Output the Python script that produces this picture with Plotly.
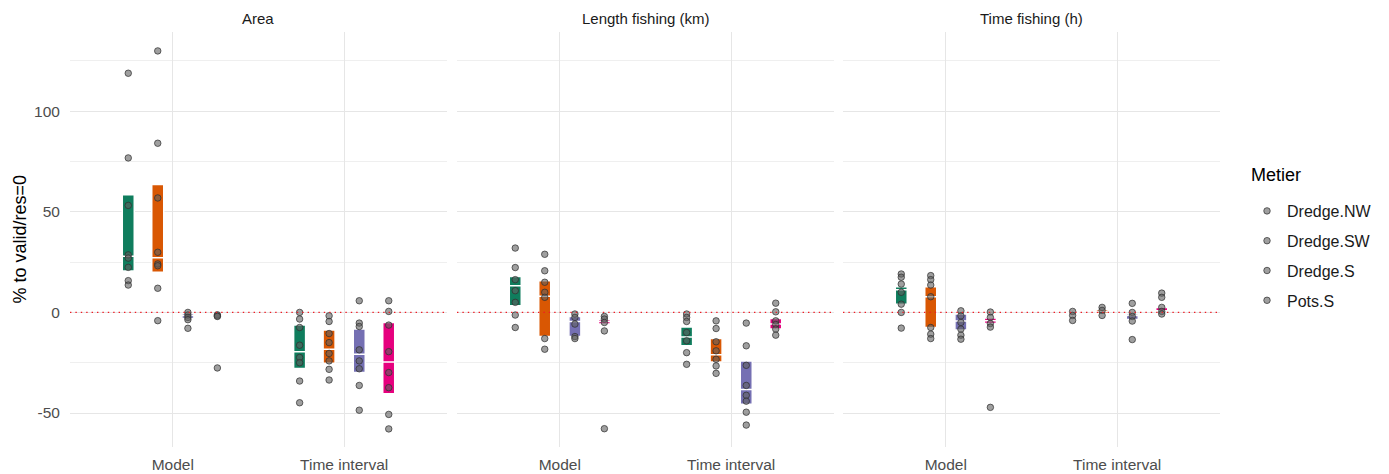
import plotly.graph_objects as go

# ---------------- data ----------------
metiers = ["Dredge.NW", "Dredge.SW", "Dredge.S", "Pots.S"]
categories = ["Model", "Time interval"]
panels = ["Area", "Length fishing (km)", "Time fishing (h)"]
y_tickvals = [-50, 0, 50, 100]
y_ticktext = ["-50", "0", "50", "100"]

# points per metier (NW, SW, S, Pots)
area_model_pts = [
    [118.9, 76.8, 53.2, 28.6, 27.0, 22.4, 15.8, 13.6],
    [130.0, 84.1, 56.9, 29.9, 24.1, 23.2, 12.0, -4.1],
    [0.0, -1.3, -2.5, -3.6, -7.9],
    [-1.2, -1.7, -2.0, -27.6],
]
area_time_pts = [
    [0.0, -3.3, -7.5, -16.3, -22.4, -25.0, -34.1, -44.9],
    [-1.7, -4.5, -10.5, -15.0, -20.4, -24.1, -28.3, -33.6],
    [5.8, -5.3, -7.0, -18.6, -24.1, -28.0, -36.3, -48.6],
    [5.8, 0.5, -6.3, -19.5, -29.9, -37.4, -50.7, -57.9],
]
length_model_pts = [
    [32.0, 22.3, 16.3, 10.8, 5.0, -1.3, -7.5],
    [28.9, 20.7, 15.0, 10.0, 7.5, -13.0, -18.3],
    [-0.8, -2.5, -5.8, -12.0, -13.0],
    [-2.0, -3.3, -5.0, -9.2, -57.8],
]
length_time_pts = [
    [-0.8, -2.5, -4.5, -10.0, -14.1, -20.0, -25.8],
    [-4.2, -8.0, -14.6, -19.1, -23.3, -26.6, -30.3],
    [-5.3, -16.6, -26.3, -36.3, -41.2, -44.1, -49.6, -56.0],
    [4.6, 0.3, -4.2, -6.0, -8.3, -11.3],
]
time_model_pts = [
    [19.1, 17.5, 14.1, 10.0, 4.1, 0.0, -7.8],
    [18.3, 16.3, 13.6, 7.8, -7.5, -10.8, -13.0],
    [0.8, -1.7, -5.0, -8.3, -11.3, -13.3],
    [0.2, -2.5, -5.5, -7.3, -47.2],
]
time_time_pts = [
    [0.5, -1.5, -4.0],
    [2.5, 1.0, -1.5],
    [4.5, 0.0, -2.0, -4.3, -13.5],
    [9.6, 7.5, 2.5, 0.5, -0.8],
]

# boxes per metier: [q1, median, q3]
area_model_box = [[20.6, 27.9, 58.5], [20.0, 27.2, 63.6], [-3.0, -1.5, -0.5], [-2.0, -1.5, -1.0]]
area_time_box = [[-27.9, -19.5, -6.3], [-25.3, -18.3, -8.8], [-29.9, -20.8, -8.3], [-40.4, -24.6, -5.0]]
length_model_box = [[3.3, 13.3, 17.8], [-12.0, 8.0, 15.8], [-12.0, -4.5, -2.0], [-5.8, -4.5, -3.5]]
length_time_box = [[-16.6, -12.2, -7.2], [-24.6, -21.1, -13.0], [-45.7, -38.3, -24.1], [-8.3, -5.8, -3.0]]
time_model_box = [[4.1, 11.3, 12.8], [-7.5, 7.8, 12.8], [-8.7, -4.3, -0.8], [-5.5, -4.2, -2.8]]
time_time_box = [[-1.0, -0.5, 0.0], [-0.5, 0.5, 1.5], [-3.5, -1.5, -0.6], [0.8, 2.5, 3.0]]

panel_pts = [[area_model_pts, area_time_pts],
             [length_model_pts, length_time_pts],
             [time_model_pts, time_time_pts]]
panel_box = [[area_model_box, area_time_box],
             [length_model_box, length_time_box],
             [time_model_box, time_time_box]]

colors = ["#0f7d5d", "#d95703", "#7570b3", "#e6007e"]
offsets = [-0.26, -0.088, 0.088, 0.26]
box_width = 0.07

# ---------------- layout geometry ----------------
# page body has an 8px margin; plot area should land at x 70..1220, y 32..447
BODY = 8
W, H = 1389 - BODY, 474 - BODY
PL, PR, PT, PB = 70, 1220, 32, 447
ml, mt = PL - BODY, PT - BODY
mr = W - ml - (PR - PL)
mb = H - mt - (PB - PT)
pw, ph = PR - PL, PB - PT


def px(xs):
    return (xs - PL) / pw


def py(ys):
    return (PB - ys) / ph


domains = [[0, px(447)], [px(457), px(834)], [px(843), 1.0]]

fig = go.Figure()
FONT = "Liberation Sans, Arial, sans-serif"

for p in range(3):
    xa = "x" if p == 0 else f"x{p + 1}"
    ya = "y" if p == 0 else f"y{p + 1}"
    for c in range(2):
        for m in range(4):
            q1, med, q3 = panel_box[p][c][m]
            fig.add_trace(go.Box(
                x=[c + 1 + offsets[m]], q1=[q1], median=[med], q3=[q3],
                lowerfence=[q1], upperfence=[q3], width=box_width,
                fillcolor=colors[m], line=dict(color="white", width=1.5),
                boxpoints=False, showlegend=False, hoverinfo="skip",
                xaxis=xa, yaxis=ya))
    for m in range(4):
        xs, ys = [], []
        for c in range(2):
            vals = panel_pts[p][c][m]
            xs += [c + 1 + offsets[m]] * len(vals)
            ys += vals
        fig.add_trace(go.Scatter(
            x=xs, y=ys, mode="markers", name=metiers[m],
            legendgroup=metiers[m], showlegend=(p == 0),
            marker=dict(size=6.5, color="rgba(95,95,95,0.6)",
                        line=dict(color="rgba(45,45,45,0.7)", width=1)),
            xaxis=xa, yaxis=ya))
    fig.add_shape(type="line", xref=f"{xa} domain", yref=ya, x0=0, x1=1, y0=0, y1=0,
                  line=dict(color="#ee1c25", width=1.4, dash="1.4px,4px"), layer="above")
    fig.add_annotation(text=panels[p], xref="paper", yref="paper",
                       x=(domains[p][0] + domains[p][1]) / 2, y=py(19),
                       showarrow=False, font=dict(size=15, color="#1a1a1a", family=FONT),
                       xanchor="center", yanchor="middle")

axis_common = dict(showline=False, zeroline=False, gridcolor="#e6e6e6", gridwidth=1,
                   automargin=False)
for p in range(3):
    key = "xaxis" if p == 0 else f"xaxis{p + 1}"
    fig.layout[key] = dict(domain=domains[p], range=[0.4, 2.6], tickvals=[1, 2],
                           ticktext=categories, anchor="y" if p == 0 else f"y{p + 1}",
                           ticks="outside", ticklen=3, tickcolor="rgba(0,0,0,0)",
                           tickfont=dict(size=15.5, color="#4d4d4d", family=FONT),
                           **axis_common)
    ykey = "yaxis" if p == 0 else f"yaxis{p + 1}"
    yd = dict(range=[-66.9, 139.4], tickvals=y_tickvals, ticktext=y_ticktext,
              anchor="x" if p == 0 else f"x{p + 1}",
              minor=dict(tickvals=[-25, 25, 75, 125], showgrid=True, gridcolor="#efefef"),
              ticks="outside", ticklen=6, tickcolor="rgba(0,0,0,0)",
              tickfont=dict(size=15.5, color="#4d4d4d", family=FONT),
              showticklabels=(p == 0), **axis_common)
    if p > 0:
        yd["matches"] = "y"
    fig.layout[ykey] = yd

fig.add_annotation(text="% to valid/res=0", xref="paper", yref="paper",
                   x=px(19), y=0.5, textangle=-90, showarrow=False,
                   font=dict(size=18, color="#000000", family=FONT),
                   xanchor="center", yanchor="middle")
fig.add_annotation(text="Metier", xref="paper", yref="paper",
                   x=px(1249), y=py(175), showarrow=False, xanchor="left", yanchor="middle",
                   font=dict(size=18, color="#000000", family=FONT))

fig.update_layout(
    width=W, height=H,
    margin=dict(l=ml, r=mr, t=mt, b=mb, autoexpand=False),
    plot_bgcolor="white", paper_bgcolor="white",
    font=dict(family=FONT),
    boxmode="overlay",
    legend=dict(font=dict(size=16, color="#1a1a1a", family=FONT),
                x=px(1247), xanchor="left",
                y=py(194), yanchor="top",
                traceorder="grouped", tracegroupgap=6,
                bgcolor="rgba(0,0,0,0)"),
)

fig.write_html("out.html")
